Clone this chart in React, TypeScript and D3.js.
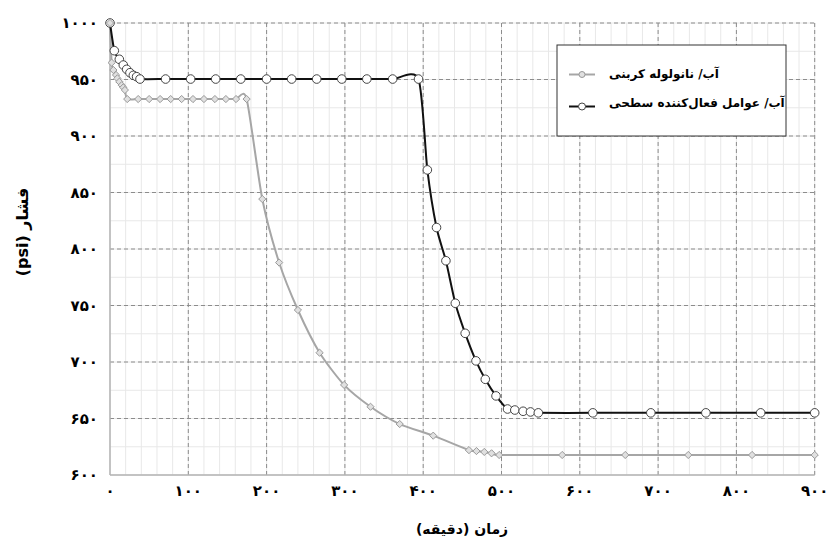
import React from "react";
import * as d3 from "d3";

const W = 827;
const H = 544;

// Series: water / carbon nanotube (gray, diamonds)
const cntTime = [0, 2.1, 4.3, 7.7, 9.4, 11.9, 15, 17, 19, 22, 36, 50, 64, 77.5, 91.5, 106, 120, 134, 148, 161, 174.5, 194.5, 216, 240, 267.7, 299, 332.7, 370, 412.8, 458.4, 468, 478, 487.3, 497, 577.5, 658, 738.5, 820, 900];
const cntPressure = [1000, 964.9, 958.4, 954, 951, 948, 945, 943, 940.7, 932.7, 932.7, 932.7, 932.7, 932.7, 932.7, 932.7, 932.7, 932.7, 932.7, 932.7, 932.7, 844.2, 788, 746, 708.2, 679.7, 660.4, 645.1, 634.8, 622, 621.2, 620.4, 619.2, 617.7, 617.7, 617.7, 617.7, 617.7, 617.7];

// Series: water / surfactant (black, circles)
const surfTime = [0, 5.5, 11.9, 17, 21.3, 25.5, 29.8, 34, 38.3, 71, 103, 135, 167, 200, 232, 264, 296, 328, 361, 394, 405.3, 417, 429, 441, 453.6, 467.4, 479.3, 493, 507.7, 517, 527.6, 537, 547, 616.6, 690.7, 761, 831, 900];
const surfPressure = [1000, 975.5, 967.9, 962.8, 959, 956, 953.7, 952.5, 950.4, 950.4, 950.4, 950.4, 950.4, 950.4, 950.4, 950.4, 950.4, 950.4, 950.4, 950.4, 870, 819, 789.6, 752, 725.4, 701, 684.7, 670, 658.4, 657.5, 656.4, 655.8, 655, 655, 655, 655, 655, 655];

const xTicks = [0, 100, 200, 300, 400, 500, 600, 700, 800, 900];
const yTicks = [600, 650, 700, 750, 800, 850, 900, 950, 1000];
const xMinor = d3.range(0, 901, 20);
const yMinor = d3.range(600, 1001, 25);

const seriesNames = ["آب/ نانولوله کربنی", "آب/ عوامل فعال‌کننده سطحی"];
const xTitle = "زمان (دقیقه)";
const yTitle = "فشار (psi)";

const faDigits = "۰۱۲۳۴۵۶۷۸۹";
const toFa = (n: number) => String(n).replace(/[0-9]/g, (d) => faDigits[+d]);

const FONT = "'DejaVu Sans', sans-serif";

export default function App() {
  const x = d3.scaleLinear().domain([0, 900]).range([110, 814.7]);
  const y = d3.scaleLinear().domain([600, 1000]).range([475, 23]);

  const cnt = cntTime.map((t, i) => [t, cntPressure[i]] as [number, number]);
  const surf = surfTime.map((t, i) => [t, surfPressure[i]] as [number, number]);

  const line = d3
    .line<[number, number]>()
    .x((d) => x(d[0]))
    .y((d) => y(d[1]))
    .curve(d3.curveCardinal.tension(0.3));

  const diamond = (cx: number, cy: number, r: number) =>
    `M${cx},${cy - r}L${cx + r},${cy}L${cx},${cy + r}L${cx - r},${cy}Z`;

  return (
    <svg
      width={W}
      height={H}
      style={{ position: "absolute", left: 0, top: 0, background: "#fff" }}
      fontFamily={FONT}
    >
      <rect x={0} y={0} width={W} height={H} fill="#fff" />
      {/* minor grid */}
      {xMinor.map((v) => (
        <line key={"xm" + v} x1={x(v)} x2={x(v)} y1={y(600)} y2={y(1000)} stroke="#e8e8e8" strokeWidth={1} />
      ))}
      {yMinor.map((v) => (
        <line key={"ym" + v} x1={x(0)} x2={x(900)} y1={y(v)} y2={y(v)} stroke="#e8e8e8" strokeWidth={1} />
      ))}
      {/* major grid */}
      {xTicks.slice(1).map((v) => (
        <line key={"xg" + v} x1={x(v)} x2={x(v)} y1={y(600)} y2={y(1000)} stroke="#8c8c8c" strokeWidth={1} strokeDasharray="4,3" />
      ))}
      {yTicks.slice(1).map((v) => (
        <line key={"yg" + v} x1={x(0)} x2={x(900)} y1={y(v)} y2={y(v)} stroke="#8c8c8c" strokeWidth={1} strokeDasharray="4,3" />
      ))}
      {/* axes */}
      <line x1={x(0)} x2={x(0)} y1={y(600)} y2={y(1000)} stroke="#b3b3b3" strokeWidth={1.5} />
      <line x1={x(0)} x2={x(900)} y1={y(600)} y2={y(600)} stroke="#b3b3b3" strokeWidth={1.5} />

      {/* tick labels */}
      {xTicks.map((v) => (
        <text key={"xt" + v} x={x(v)} y={491} textAnchor="middle" dominantBaseline="central" fontSize={15} fontWeight="bold" fill="#000">
          {toFa(v)}
        </text>
      ))}
      {yTicks.map((v) => (
        <text key={"yt" + v} x={98} y={y(v)} textAnchor="end" dominantBaseline="central" fontSize={15} fontWeight="bold" fill="#000">
          {toFa(v)}
        </text>
      ))}

      {/* axis titles */}
      <text x={462} y={529} textAnchor="middle" dominantBaseline="central" fontSize={14} fontWeight="bold" direction="rtl" style={{ direction: "rtl" }}>
        {xTitle}
      </text>
      <text
        transform={`translate(22,232) rotate(-90)`}
        textAnchor="middle"
        dominantBaseline="central"
        fontSize={16}
        fontWeight="bold"
        direction="rtl"
        style={{ direction: "rtl" }}
      >
        {yTitle}
      </text>

      {/* lines */}
      <path d={line(cnt) || ""} fill="none" stroke="#a6a6a6" strokeWidth={2} />
      <path d={line(surf) || ""} fill="none" stroke="#111" strokeWidth={2} />

      {/* markers */}
      {surf.map((d, i) => (
        <circle key={"sc" + i} cx={x(d[0])} cy={y(d[1])} r={4.3} fill="#fff" stroke="#444" strokeWidth={1} />
      ))}
      {cnt.map((d, i) => (
        <path key={"cd" + i} d={diamond(x(d[0]), y(d[1]), 3.6)} fill="#e0e0e0" stroke="#999" strokeWidth={1} />
      ))}

      {/* legend */}
      <rect x={557} y={45} width={229} height={91} fill="#fff" stroke="#333" strokeWidth={1} />
      <line x1={569} x2={595} y1={74.5} y2={74.5} stroke="#a6a6a6" strokeWidth={2} />
      <circle cx={582} cy={74.5} r={3} fill="#e0e0e0" stroke="#999" strokeWidth={1} />
      <line x1={569} x2={595} y1={106.5} y2={106.5} stroke="#111" strokeWidth={2} />
      <circle cx={582} cy={106.5} r={3.5} fill="#fff" stroke="#444" strokeWidth={1} />
      <text x={609} y={74} dominantBaseline="central" fontSize={12} fontWeight="bold" fill="#000">
        {seriesNames[0]}
      </text>
      <text x={609} y={103} dominantBaseline="central" fontSize={12} fontWeight="bold" fill="#000">
        {seriesNames[1]}
      </text>
    </svg>
  );
}
